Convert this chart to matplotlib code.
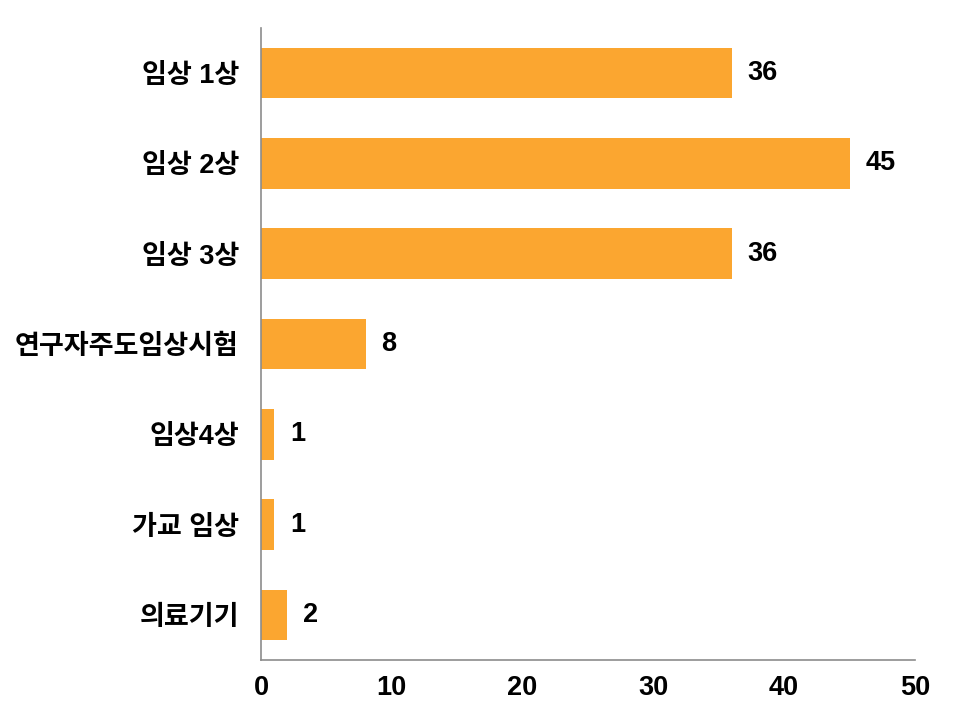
import matplotlib
matplotlib.use("Agg")
import matplotlib.pyplot as plt

# Data (top to bottom).
categories = ["임상 1상", "임상 2상", "임상 3상", "연구자주도임상시험", "임상4상", "가교 임상", "의료기기"]
counts = [36, 45, 36, 8, 1, 1, 2]
x_ticks = [0, 10, 20, 30, 40, 50]

plt.rcParams['font.family'] = ['Liberation Sans', 'Noto Sans CJK KR', 'DejaVu Sans']
plt.rcParams['font.weight'] = 'bold'

fig = plt.figure(figsize=(9.6, 7.2), dpi=100)
ax = fig.add_axes([0.272, 0.0833, 0.681, 0.878])

pos = list(range(len(categories)))
ax.barh(pos, counts, height=0.56, color='#FBA630')

# Value labels right of each bar.
for p, v in zip(pos, counts):
    ax.text(v + 1.2, p, str(v), va='center', ha='left', fontsize=19.5, fontweight='bold')

ax.set_ylim(len(categories) - 0.5, -0.5)
ax.set_xlim(0, 50)
ax.set_yticks(pos)
ax.set_yticklabels(categories, fontsize=19.5, fontweight='bold')
ax.set_xticks(x_ticks)
ax.set_xticklabels([str(t) for t in x_ticks], fontsize=19.5, fontweight='bold')
ax.tick_params(axis='both', length=0)
ax.tick_params(axis='y', pad=16)
ax.tick_params(axis='x', pad=11)

for side in ['top', 'right']:
    ax.spines[side].set_visible(False)
for side in ['left', 'bottom']:
    ax.spines[side].set_color('#8c8c8c')
    ax.spines[side].set_linewidth(1.2)

fig.savefig('out.png', dpi=100)
